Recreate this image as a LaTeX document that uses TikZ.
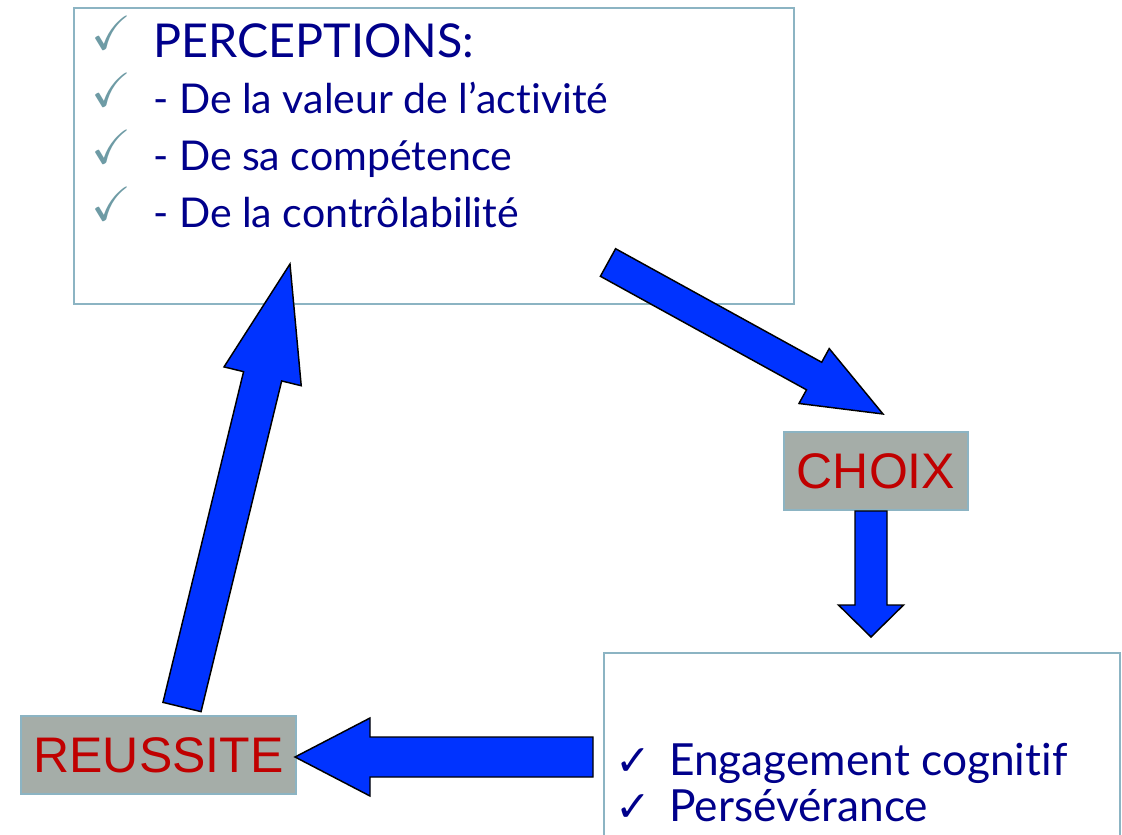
\documentclass[tikz,border=0pt]{standalone}
\usepackage{fontspec}
\usepackage{amssymb}
\usetikzlibrary{calc}
\newfontfamily\gillfont[Ligatures=NoCommon]{Lato}
\newfontfamily\arialfont{Liberation Sans}
\newfontfamily\symfont{DejaVu Sans}
\definecolor{navytxt}{RGB}{0,0,139}
\definecolor{redtxt}{RGB}{192,0,0}
\definecolor{graybox}{RGB}{165,173,168}
\definecolor{boxline}{RGB}{140,180,195}
\definecolor{checkteal}{RGB}{110,155,165}
\definecolor{arrowblue}{RGB}{0,51,255}
\tikzset{
  panel/.style={draw=boxline, line width=1.3pt, fill=white, inner sep=0pt},
  labelbox/.style={draw=boxline, line width=1.3pt, fill=graybox, inner sep=0pt,
     font=\arialfont\fontsize{37.5}{40}\selectfont, text=redtxt},
  bluearrow/.style={draw=black, fill=arrowblue, line width=1.1pt, line join=miter},
  toptxt/.style={inner sep=0pt, anchor=base west, text=navytxt, font=\gillfont\fontsize{30.8}{33}\selectfont},
  bigtxt/.style={inner sep=0pt, anchor=base west, text=navytxt, font=\gillfont\fontsize{35}{38}\selectfont},
  bottxt/.style={inner sep=0pt, anchor=base west, text=navytxt, font=\gillfont\fontsize{33.2}{36}\selectfont},
  tick/.style={inner sep=0pt, anchor=base west, text=checkteal, font=\fontsize{36}{38}\selectfont},
}
\newcommand{\bigcheck}{\makebox[40.5pt][l]{\symfont\fontsize{32}{34}\selectfont ✓}}
\newcommand{\blockarrow}[5]{%
  \coordinate (ba-h) at ($(#2)!#5!(#1)$);
  \draw[bluearrow] ($(#1)!#3!90:(#2)$) -- ($(ba-h)!#3!90:(#2)$) -- ($(ba-h)!#4!90:(#2)$)
     -- (#2) -- ($(ba-h)!#4!-90:(#2)$) -- ($(ba-h)!#3!-90:(#2)$) -- ($(#1)!#3!-90:(#2)$) -- cycle;
}
\begin{document}
\begin{tikzpicture}[x=0.75pt, y=-0.75pt]
\useasboundingbox (0,0) rectangle (1122,835);
\clip (0,0) rectangle (1122,835);
\fill[white] (0,0) rectangle (1122,835);

% boxes
\node[panel, anchor=north west, minimum width=540pt, minimum height=222pt] (perc) at (73,7) {};
\node[panel, anchor=north west, minimum width=387pt, minimum height=190pt] (engage) at (603,652) {};
\node[labelbox, minimum width=138pt, minimum height=58.5pt] (choix) at (876,471) {CHOIX};
\node[labelbox, minimum width=206.25pt, minimum height=58.5pt] (reussite) at (158.5,755) {REUSSITE};

% top box text
\node[tick] (t1) at (91,50) {$\checkmark$};
\node[tick] (t2) at (91,106) {$\checkmark$};
\node[tick] (t3) at (91,163) {$\checkmark$};
\node[tick] (t4) at (91,220) {$\checkmark$};
\node[bigtxt] (l1) at (153,57) {PERCEPTIONS:};
\node[toptxt] (l2) at (153,113) {- De la valeur de l’activité};
\node[toptxt] (l3) at (153,170) {- De sa compétence};
\node[toptxt] (l4) at (153,227) {- De la contrôlabilité};

% bottom box text (two lines in one node)
\node[bottxt] (eng) at (615,775) {\vtop{\baselineskip=34.5pt\lineskiplimit=-100pt\lineskip=0pt
  \hbox{\bigcheck Engagement cognitif}\hbox{\bigcheck Persévérance}}};

% arrow end points
\coordinate (a1s) at (608,262.5);
\coordinate (a1e) at (883,414);
\coordinate (a2s) at (871,511);
\coordinate (a2e) at (871,637);
\coordinate (a3s) at (593,757);
\coordinate (a3e) at (295,757);
\coordinate (a4s) at (182,707);
\coordinate (a4e) at (290,264);

\blockarrow{a1s}{a1e}{11.8pt}{23.5pt}{59pt}
\blockarrow{a2s}{a2e}{12pt}{24.4pt}{24pt}
\blockarrow{a3s}{a3e}{15pt}{29.25pt}{56.25pt}
\blockarrow{a4s}{a4e}{14.7pt}{29.8pt}{86.7pt}
\end{tikzpicture}
\end{document}
